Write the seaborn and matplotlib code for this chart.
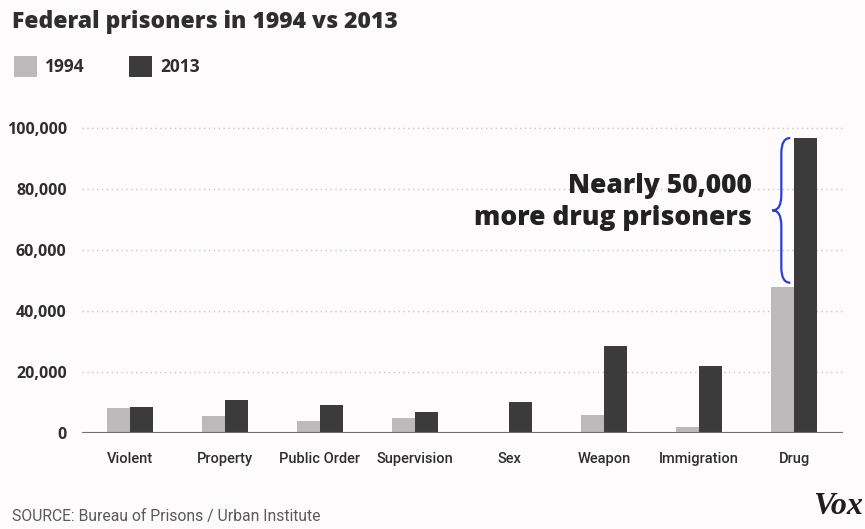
import matplotlib
matplotlib.use("Agg")
import matplotlib.pyplot as plt
import seaborn as sns
import pandas as pd
from matplotlib.patches import Rectangle, PathPatch
from matplotlib.path import Path

categories = ["Violent", "Property", "Public Order", "Supervision", "Sex", "Weapon", "Immigration", "Drug"]
years = ["1994", "2013"]
values_1994 = [8200, 5700, 4000, 5000, 0, 5900, 2100, 47800]
values_2013 = [8600, 10800, 9200, 6800, 10300, 28700, 22000, 96800]
y_ticks = [0, 20000, 40000, 60000, 80000, 100000]
y_tick_labels = ["0", "20,000", "40,000", "60,000", "80,000", "100,000"]

light = "#bbb9ba"
dark = "#3b3b3c"
bg = "#fdfbfc"
text_dark = "#2e2e2f"
BOLD = ["Open Sans", "DejaVu Sans"]

df = pd.DataFrame({
    "category": categories * 2,
    "year": [years[0]] * len(categories) + [years[1]] * len(categories),
    "count": values_1994 + values_2013,
})

sns.set_theme(style="white")
plt.rcParams["font.family"] = ["Roboto", "DejaVu Sans"]

W, H = 865, 529
fig = plt.figure(figsize=(W / 100, H / 100), dpi=100, facecolor=bg)

def fx(x):
    return x / W

def fy(y):
    return 1 - y / H

left, right, top, bottom = 82, 843, 113, 433
ax = fig.add_axes([fx(left), fy(bottom), (right - left) / W, (bottom - top) / H])
ax.set_facecolor(bg)

sns.barplot(data=df, x="category", y="count", hue="year", palette=[light, dark],
            width=0.485, gap=0, saturation=1, legend=False, ax=ax, edgecolor="none",
            linewidth=0, errorbar=None)

ax.set_xlim(-0.505, 7.515)
ax.set_ylim(0, 105000)
for s in ax.spines.values():
    s.set_visible(False)
for t in y_ticks[1:]:
    ax.axhline(t, color="#c8c6c7", lw=1.0, ls=(0, (1, 2.5)), zorder=0)
ax.axhline(0, color="#6f6f70", lw=1.5, zorder=3)

ax.set_yticks(y_ticks)
ax.set_yticklabels(y_tick_labels, fontsize=11.5, fontweight="bold", color=text_dark, family=BOLD)
ax.tick_params(axis="y", length=0, pad=11)
ax.tick_params(axis="x", length=0, pad=14)
for lab in ax.get_xticklabels():
    lab.set_fontsize(10.5)
    lab.set_color(text_dark)
    lab.set_fontweight("medium")
ax.set_xlabel("")
ax.set_ylabel("")

# Title
fig.text(fx(12), fy(22), "Federal prisoners in 1994 vs 2013", fontsize=16.5, fontweight="heavy",
         color=text_dark, va="center", ha="left", family=BOLD)

# Legend
for x0, col, lab, tx in [(14, light, years[0], 45), (129, dark, years[1], 160)]:
    fig.add_artist(Rectangle((fx(x0), fy(77)), 23 / W, 21 / H, transform=fig.transFigure,
                             facecolor=col, edgecolor="none"))
    fig.text(fx(tx), fy(67), lab, fontsize=12.5, fontweight="bold", color=text_dark,
             va="center", ha="left", family=BOLD)

# Annotation
ax.text(6.55, 75800, "Nearly 50,000\nmore drug prisoners", fontsize=19, fontweight="heavy",
        color="#222223", ha="right", va="center", linespacing=1.32, family=BOLD)

# Brace
top_v = values_2013[-1]
bot_v = values_1994[-1] + 1500
mid_v = (top_v + bot_v) / 2
x_r, x_l = 6.96, 6.77
x_m = (x_r + x_l) / 2
d = 5000
verts = [(x_r, top_v), (x_m, top_v), (x_m, top_v - d),
         (x_m, mid_v + d),
         (x_m, mid_v), (x_l, mid_v),
         (x_m, mid_v), (x_m, mid_v - d),
         (x_m, bot_v + d),
         (x_m, bot_v), (x_r, bot_v)]
codes = [Path.MOVETO, Path.CURVE3, Path.CURVE3, Path.LINETO, Path.CURVE3, Path.CURVE3,
         Path.CURVE3, Path.CURVE3, Path.LINETO, Path.CURVE3, Path.CURVE3]
ax.add_patch(PathPatch(Path(verts, codes), facecolor="none", edgecolor="#2a3fd8", lw=1.6,
                       zorder=5, clip_on=False))

# Source and logo
fig.text(fx(12), fy(517), "SOURCE: Bureau of Prisons / Urban Institute", fontsize=11.3,
         color="#5a5a5b", va="center", ha="left")
fig.text(fx(863), fy(507), "Vox", fontsize=23, fontweight="bold", fontstyle="italic",
         family=["Liberation Serif", "DejaVu Serif"], color="#1e1e1e", va="center", ha="right")

fig.savefig("out.png", dpi=100, facecolor=bg)
